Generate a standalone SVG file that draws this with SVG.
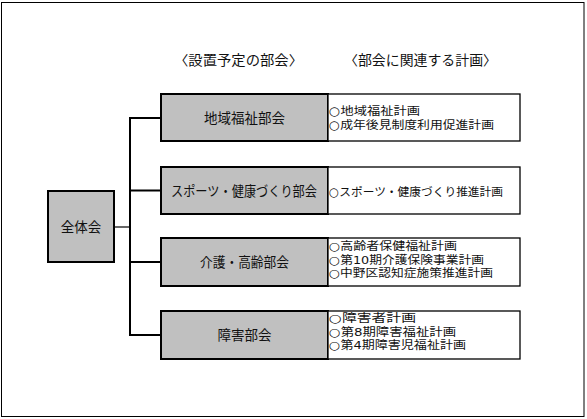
<svg xmlns="http://www.w3.org/2000/svg" width="587" height="419" viewBox="0 0 587 419">
<style>
text{font-family:"Liberation Sans","Noto Sans CJK JP","Noto Sans CJK SC",sans-serif;fill:#111}
.h{font-size:13.5px}
.g{fill:#c0c0c0;stroke:#000;stroke-width:2}
.p{fill:#fff;stroke:#000;stroke-width:1.3}
.n{font-size:13.5px;text-anchor:middle}
.t,.s{font-family:"DejaVu Sans","Noto Sans CJK JP","Noto Sans CJK SC",sans-serif}
.t{font-size:11.5px}
.s{font-size:11.3px}
.c{fill:none;stroke:#000;stroke-width:2}
</style>
<rect x="1.5" y="2.5" width="582.5" height="414" fill="#fff" stroke="#000" stroke-width="1"/>
<g id="headers">
<text class="h" x="174" y="65" textLength="129" lengthAdjust="spacingAndGlyphs">〈設置予定の部会〉</text>
<text class="h" x="344" y="65" textLength="153" lengthAdjust="spacingAndGlyphs">〈部会に関連する計画〉</text>
</g>
<g id="connectors">
<path class="c" d="M161,118 H130 V335 H161 M130,190.5 H161 M130,262 H161"/>
<path d="M114,227 H130" stroke="#000" stroke-width="1.2" fill="none"/>
</g>
<g id="zentai">
<rect class="g" x="48" y="191" width="66" height="71"/>
<text class="n" x="81" y="232">全体会</text>
</g>
<g id="chiiki">
<rect class="g" x="161" y="94" width="167" height="47"/>
<text class="n" x="244.5" y="123">地域福祉部会</text>
<rect class="p" x="328" y="94" width="192" height="47"/>
<text class="t" x="329" y="115" textLength="91" lengthAdjust="spacingAndGlyphs">○地域福祉計画</text>
<text class="t" x="329" y="128.5" textLength="165" lengthAdjust="spacingAndGlyphs">○成年後見制度利用促進計画</text>
</g>
<g id="sports">
<rect class="g" x="161" y="167" width="167" height="47"/>
<text class="n" x="244" y="196" textLength="146" lengthAdjust="spacingAndGlyphs">スポーツ・健康づくり部会</text>
<rect class="p" x="328" y="167" width="192" height="47"/>
<text class="t" x="329" y="196" textLength="174" lengthAdjust="spacingAndGlyphs">○スポーツ・健康づくり推進計画</text>
</g>
<g id="kaigo">
<rect class="g" x="161" y="238" width="167" height="48"/>
<text class="n" x="244.5" y="267" textLength="89" lengthAdjust="spacingAndGlyphs">介護・高齢部会</text>
<rect class="p" x="328" y="238" width="192" height="48"/>
<text class="s" x="329" y="250.3" textLength="128" lengthAdjust="spacingAndGlyphs">○高齢者保健福祉計画</text>
<text class="s" x="329" y="263.7" textLength="155" lengthAdjust="spacingAndGlyphs">○第10期介護保険事業計画</text>
<text class="s" x="329" y="277.1" textLength="164" lengthAdjust="spacingAndGlyphs">○中野区認知症施策推進計画</text>
</g>
<g id="shogai">
<rect class="g" x="161" y="311" width="167" height="48"/>
<text class="n" x="244.5" y="340">障害部会</text>
<rect class="p" x="328" y="311" width="192" height="48"/>
<text class="s" x="329" y="322.2" textLength="87" lengthAdjust="spacingAndGlyphs">○障害者計画</text>
<text class="s" x="329" y="335.6" textLength="127" lengthAdjust="spacingAndGlyphs">○第8期障害福祉計画</text>
<text class="s" x="329" y="349" textLength="137" lengthAdjust="spacingAndGlyphs">○第4期障害児福祉計画</text>
</g>
</svg>
